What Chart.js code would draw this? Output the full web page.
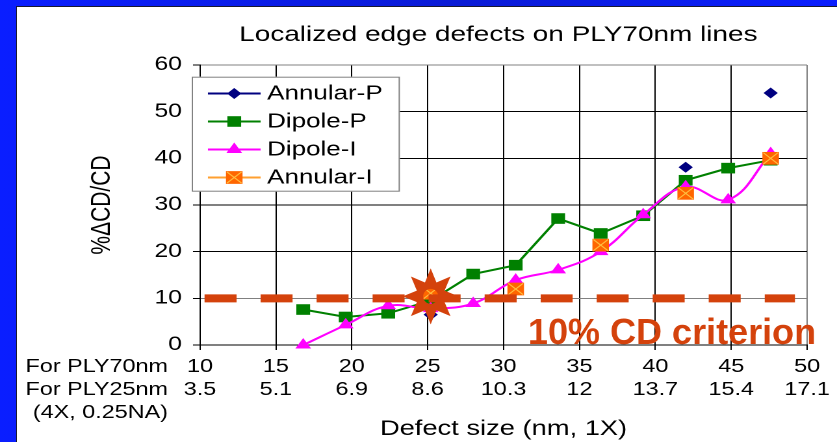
<!DOCTYPE html>
<html><head><meta charset="utf-8">
<script src="https://cdn.jsdelivr.net/npm/chart.js@4.4.1/dist/chart.umd.min.js"></script>
<style>
html,body{margin:0;padding:0;width:837px;height:442px;overflow:hidden;}
body{background:linear-gradient(90deg,#0a1eff 0%,#0a1bd6 55%,#0a1eff 100%);position:relative;}
#panel{position:absolute;left:16px;top:6px;width:830px;height:450px;background:#fff;border-left:1px solid #181830;border-top:1px solid #181830;}
#c{position:absolute;left:0;top:0;}
</style></head><body>
<div id="panel"></div>
<canvas id="c" width="644" height="442" style="width:837px;height:442px"></canvas>
<script>
// ---- data ----
const chartTitle = 'Localized edge defects on PLY70nm lines';
const defectSizeNm = [16.8, 19.6, 22.4, 25.2, 28.0, 30.8, 33.6, 36.4, 39.2, 42.0, 44.8, 47.6];
const annularP = [null, null, null, 6.5, null, null, null, null, null, 38.1, null, 54.0];
const dipoleP  = [7.6, 6.0, 6.8, 9.5, 15.2, 17.1, 27.1, 23.9, 27.7, 35.3, 37.9, 39.6];
const dipoleI  = [0.0, 4.3, 8.4, 7.8, 8.9, 13.9, 16.1, 20.0, 27.9, 33.9, 31.1, 41.0];
const annularI = [null, null, null, 11.1, null, 12.0, null, 21.4, null, 32.5, null, 40.0];
const ply70Ticks = [10, 15, 20, 25, 30, 35, 40, 45, 50];
const ply25Ticks = ['3.5', '5.1', '6.9', '8.6', '10.3', '12', '13.7', '15.4', '17.1'];
const rowLabels = ['For PLY70nm', 'For PLY25nm', '(4X, 0.25NA)'];
const seriesNames = ['Annular-P', 'Dipole-P', 'Dipole-I', 'Annular-I'];
const criterion = 10;
const criterionSpan = [10.3, 49.2];
const crossingNm = 25.2;
const criterionLabel = '10% CD criterion';
const yTitle = '%\u0394CD/CD';
const xTitle = 'Defect size (nm, 1X)';

// ---- styling ----
const STRETCH = 837 / 644;
const FONT = '"Liberation Sans", Arial, sans-serif';
const RED = '#D4420C';
Chart.defaults.font.family = FONT;
Chart.defaults.color = '#000';

const pts = arr => defectSizeNm.map((x, i) => ({x, y: arr[i]}));

const datasets = [
  {label: seriesNames[0], data: pts(annularP), borderColor: '#000080', backgroundColor: '#000080',
   borderWidth: 2, pointStyle: 'rectRot', pointRadius: 5.5, pointBorderWidth: 0, order: 4,
   legendLine: '#000080'},
  {label: seriesNames[1], data: pts(dipoleP), borderColor: '#008000', backgroundColor: '#008000',
   borderWidth: 2, pointStyle: 'rect', pointRadius: 7.5, pointBorderWidth: 0, order: 3,
   legendLine: '#008000'},
  {label: seriesNames[2], data: pts(dipoleI), borderColor: '#FF00FF', backgroundColor: '#FF00FF',
   borderWidth: 2, pointStyle: 'triangle', pointRadius: 7, pointBorderWidth: 0, tension: 0.4, order: 2,
   legendLine: '#FF00FF'},
  {label: seriesNames[3], data: pts(annularI), borderColor: '#FFA030', backgroundColor: '#FF6600',
   borderWidth: 2, pointStyle: 'rect', pointRadius: 9, pointBorderWidth: 0, order: 1,
   legendLine: '#FFA030'},
  {label: 'xmark', data: pts(annularI), showLine: false, borderColor: '#FFC040', backgroundColor: 'transparent',
   pointStyle: 'crossRot', pointRadius: 8, pointBorderWidth: 1, pointBorderColor: '#FFC040', order: 0, noLegend: true},
  {label: 'criterion', data: criterionSpan.map(x => ({x, y: criterion})), borderColor: RED,
   borderWidth: 8, borderDash: [24.6, 18.5], borderCapStyle: 'butt', pointRadius: 0, order: -1, noLegend: true}
];
datasets.forEach(d => { d.clip = false; d.spanGaps = false; });

const overlay = {
  id: 'overlay',
  afterDraw(chart) {
    const {ctx, chartArea: ca, scales: {x, y}} = chart;
    // title
    ctx.save();
    ctx.fillStyle = '#000';
    ctx.font = '21.5px ' + FONT;
    ctx.textAlign = 'center';
    ctx.textBaseline = 'alphabetic';
    ctx.fillText(chartTitle, (ca.left + ca.right) / 2 - 4, 41);
    // row labels left of x ticks
    ctx.font = '18px ' + FONT;
    ctx.textAlign = 'right';
    ctx.textBaseline = 'middle';
    const lh = 23, tl = 5, pad = 5.5;
    rowLabels.forEach((t, i) => ctx.fillText(t, ca.left - 24.6, x.top + tl + pad + lh * (i + 0.5)));
    ctx.restore();

    // legend
    const lx = ca.left - 6.4, ly = 76.7, lw = 160.2, lhgt = 115;
    ctx.save();
    ctx.fillStyle = '#fff';
    ctx.fillRect(lx, ly, lw, lhgt);
    ctx.strokeStyle = '#808080';
    ctx.lineWidth = 1;
    ctx.strokeRect(lx + 0.5, ly + 0.5, lw - 1, lhgt - 1);
    const legendSets = chart.data.datasets.filter(d => !d.noLegend);
    legendSets.forEach((d, i) => {
      const ry = 93.5 + i * 28;
      const x0 = lx + 12.5, x1 = lx + 53, mx = (x0 + x1) / 2;
      ctx.strokeStyle = d.legendLine;
      ctx.lineWidth = 2;
      ctx.beginPath(); ctx.moveTo(x0, ry); ctx.lineTo(x1, ry); ctx.stroke();
      ctx.fillStyle = d.backgroundColor;
      ctx.strokeStyle = d.backgroundColor;
      Chart.helpers.drawPoint(ctx, {pointStyle: d.pointStyle, radius: d.pointRadius, rotation: 0, borderWidth: 0}, mx, ry);
      if (d.label === seriesNames[3]) {
        ctx.strokeStyle = '#FFC040'; ctx.lineWidth = 1; ctx.fillStyle = 'transparent';
        Chart.helpers.drawPoint(ctx, {pointStyle: 'crossRot', radius: 8, rotation: 0, borderWidth: 1}, mx, ry);
      }
      ctx.fillStyle = '#000';
      ctx.font = '20px ' + FONT;
      ctx.textAlign = 'left';
      ctx.textBaseline = 'middle';
      ctx.fillText(d.label, lx + 58, ry + 0.5);
    });
    ctx.restore();

    // star marking the crossing with the criterion
    ctx.save();
    ctx.translate(x.getPixelForValue(crossingNm), y.getPixelForValue(criterion) - 2);
    ctx.scale(1 / STRETCH, 1);
    ctx.beginPath();
    const n = 8, R = 28, r = 15, hole = 7.5;
    for (let k = 0; k < 2 * n; k++) {
      const a = -Math.PI / 2 + k * Math.PI / n;
      const rr = k % 2 === 0 ? R : r;
      const px = Math.cos(a) * rr, py = Math.sin(a) * rr;
      if (k === 0) ctx.moveTo(px, py); else ctx.lineTo(px, py);
    }
    ctx.closePath();
    ctx.moveTo(hole, 0);
    ctx.arc(0, 0, hole, 0, Math.PI * 2);
    ctx.fillStyle = RED;
    ctx.fill('evenodd');
    ctx.restore();

    // criterion label (not stretched)
    ctx.save();
    ctx.translate(ca.right + 6.9, ca.bottom - 1);
    ctx.scale(1 / STRETCH, 1);
    ctx.font = 'bold 36px ' + FONT;
    ctx.fillStyle = RED;
    ctx.textAlign = 'right';
    ctx.textBaseline = 'alphabetic';
    ctx.fillText(criterionLabel, 0, 0, 294);
    ctx.restore();
  }
};

new Chart(document.getElementById('c'), {
  type: 'line',
  data: {datasets},
  plugins: [overlay],
  options: {
    responsive: false,
    devicePixelRatio: 2,
    animation: false,
    events: [],
    layout: {padding: {left: 0, top: 65, right: 644 - 808 / STRETCH, bottom: 0}},
    plugins: {legend: {display: false}, tooltip: {enabled: false}, title: {display: false}},
    scales: {
      x: {
        type: 'linear', min: 10, max: 50,
        afterFit: s => { s.height = 97; },
        border: {color: '#000', width: 1},
        grid: {color: c => c.tick && c.tick.value === 50 ? '#808080' : '#000', lineWidth: 1,
               tickLength: 5, tickColor: '#000'},
        ticks: {stepSize: 5, autoSkip: false, maxRotation: 0, padding: 5.5,
                font: {size: 18, lineHeight: 23 / 18}, color: '#000',
                callback: v => { const i = ply70Ticks.indexOf(v); return i >= 0 ? [String(v), ply25Ticks[i]] : ''; }},
        title: {display: true, text: xTitle, font: {size: 21}, color: '#000', padding: {top: 0, bottom: 0}}
      },
      y: {
        min: 0, max: 60,
        afterFit: s => { s.width = 808 / STRETCH - (808 - 200) / STRETCH; },
        border: {color: '#000', width: 1},
        grid: {color: c => c.tick && (c.tick.value === 60 || c.tick.value === 10) ? '#808080' : '#000',
               lineWidth: 1, tickLength: 5.4, tickColor: '#000'},
        ticks: {stepSize: 10, padding: 8.5, font: {size: 19}, color: '#000'},
        title: {display: true, text: yTitle, font: {size: 21}, color: '#000', padding: {top: 66.2, bottom: 0}}
      }
    }
  }
});
</script>
</body></html>
